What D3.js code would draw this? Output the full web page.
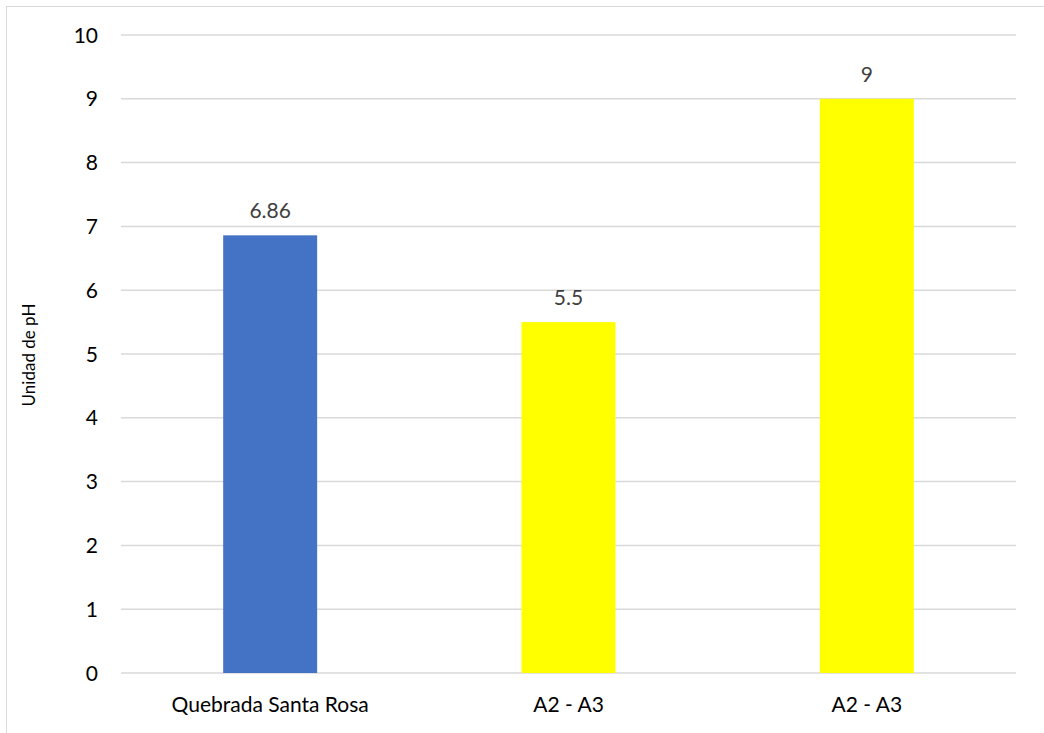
<!DOCTYPE html>
<html><head><meta charset="utf-8">
<script src="https://cdn.jsdelivr.net/npm/d3@7"></script>
<style>body{margin:0;background:#fff}svg{display:block}</style>
</head><body>
<svg id="c" width="1044" height="733"></svg>
<script>
const categories = ["Quebrada Santa Rosa", "A2 - A3", "A2 - A3"];
const values = [6.86, 5.5, 9];
const labels = ["6.86", "5.5", "9"];
const colors = ["#4472C4", "#FFFF00", "#FFFF00"];
const yTicks = [0,1,2,3,4,5,6,7,8,9,10];
const yTitle = "Unidad de pH";

(function(){
const svg = d3.select("#c");
const font = "Lato, 'Noto Sans', sans-serif";
svg.append("rect").attr("x",6.5).attr("y",6.5).attr("width",1100).attr("height",800)
  .attr("fill","#fff").attr("stroke","#d9d9d9").attr("stroke-width",1);

const pLeft=121, pRight=1016, pTop=35, pBottom=673;
const x = d3.scaleBand().domain(d3.range(categories.length)).range([pLeft,pRight]).paddingInner(0.685).paddingOuter(0.3425);
const y = d3.scaleLinear().domain([0,10]).range([pBottom,pTop]);

svg.append("g").selectAll("line").data(yTicks).join("line")
  .attr("x1",pLeft).attr("x2",pRight).attr("y1",d=>y(d)).attr("y2",d=>y(d))
  .attr("stroke","#d9d9d9").attr("stroke-width",1.5);

svg.append("g").selectAll("text").data(yTicks).join("text")
  .attr("x",98).attr("y",d=>y(d)).attr("dy","0.36em").attr("text-anchor","end")
  .attr("font-family",font).attr("font-size",21).attr("fill","#000").text(d=>d);

svg.append("g").selectAll("rect").data(values).join("rect")
  .attr("x",(d,i)=>x(i)).attr("width",x.bandwidth())
  .attr("y",d=>y(d)).attr("height",d=>y(0)-y(d)).attr("fill",(d,i)=>colors[i]);

svg.append("g").selectAll("text").data(values).join("text")
  .attr("x",(d,i)=>x(i)+x.bandwidth()/2).attr("y",d=>y(d)-17)
  .attr("text-anchor","middle").attr("font-family",font).attr("font-size",21)
  .attr("fill","#404040").text((d,i)=>labels[i]);

svg.append("g").selectAll("text").data(categories).join("text")
  .attr("x",(d,i)=>x(i)+x.bandwidth()/2).attr("y",712)
  .attr("text-anchor","middle").attr("font-family",font).attr("font-size",21)
  .attr("fill","#000").text(d=>d);

svg.append("text").attr("transform","translate(35,355) rotate(-90)")
  .attr("text-anchor","middle").attr("font-family",font).attr("font-size",17)
  .attr("fill","#000").text(yTitle);
})();
</script>
</body></html>
